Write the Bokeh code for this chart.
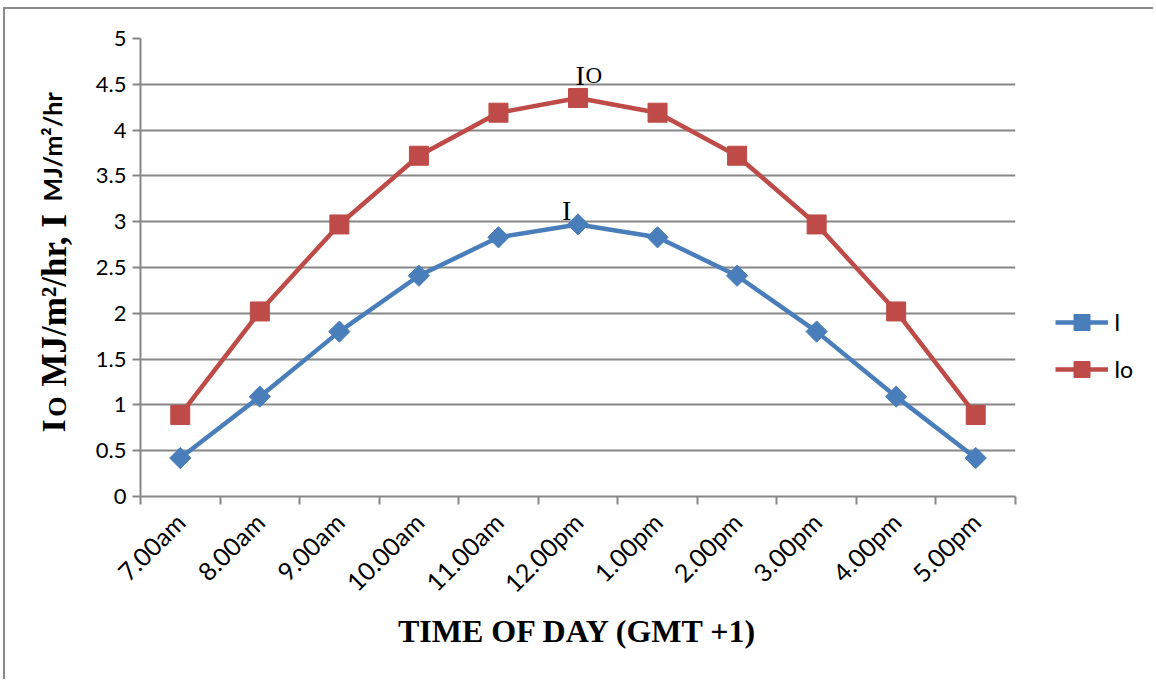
import math
from bokeh.plotting import figure
from bokeh.layouts import row
from bokeh.models import (FixedTicker, Legend, LegendItem, ColumnDataSource, Label)
from bokeh.core.properties import value
from bokeh.embed import file_html
from bokeh.resources import INLINE

categories = ["7.00am", "8.00am", "9.00am", "10.00am", "11.00am", "12.00pm",
              "1.00pm", "2.00pm", "3.00pm", "4.00pm", "5.00pm"]
I_values = [0.42, 1.09, 1.80, 2.41, 2.83, 2.97, 2.83, 2.41, 1.80, 1.09, 0.42]
Io_values = [0.89, 2.02, 2.97, 3.72, 4.19, 4.35, 4.19, 3.72, 2.97, 2.02, 0.89]
y_ticks = [0, 0.5, 1, 1.5, 2, 2.5, 3, 3.5, 4, 4.5, 5]
y_tick_labels = ["0", "0.5", "1", "1.5", "2", "2.5", "3", "3.5", "4", "4.5", "5"]
series_names = ["I", "Io"]

BLUE = "#4A7EBB"
RED = "#BE4B48"
GRID = "#878787"
TICK_FONT = "Lato"
SERIF = "Liberation Serif"

H = 670
TOP, BOTTOM = 29, 183
LAB_W = 80
MAIN_W = 932
LEG_W = 136

n = len(categories)
xc = [i + 0.5 for i in range(n)]
src = ColumnDataSource(dict(x=xc, I=I_values, Io=Io_values))

# ---------- main plot ----------
p = figure(width=MAIN_W, height=H, output_backend="svg", toolbar_location=None,
           x_range=(0, n), y_range=(0, 5),
           min_border_left=55, min_border_right=2,
           min_border_top=TOP, min_border_bottom=BOTTOM)
p.outline_line_color = None
p.background_fill_color = "white"
p.border_fill_color = "white"

p.xgrid.grid_line_color = None
p.ygrid.ticker = FixedTicker(ticks=y_ticks)
p.ygrid.grid_line_color = GRID
p.ygrid.grid_line_width = 2

# x axis (category boundaries carry the tick marks)
p.xaxis.ticker = FixedTicker(ticks=xc, minor_ticks=list(range(n + 1)))
p.xaxis.major_label_overrides = {x: c for x, c in zip(xc, categories)}
p.xaxis.major_tick_line_color = None
p.xaxis.major_tick_out = 6
p.xaxis.major_tick_in = 0
p.xaxis.minor_tick_line_color = GRID
p.xaxis.minor_tick_line_width = 2
p.xaxis.minor_tick_out = 8
p.xaxis.minor_tick_in = 0
p.xaxis.axis_line_color = GRID
p.xaxis.axis_line_width = 2
p.xaxis.major_label_orientation = math.pi / 4
p.xaxis.major_label_text_font = TICK_FONT
p.xaxis.major_label_text_font_size = "25px"
p.xaxis.major_label_text_color = "black"
p.xaxis.major_label_standoff = 13
p.xaxis.axis_label = "TIME OF DAY (GMT +1)"
p.xaxis.axis_label_text_font = SERIF
p.xaxis.axis_label_text_font_style = "bold"
p.xaxis.axis_label_text_font_size = "32px"
p.xaxis.axis_label_text_color = "black"
p.xaxis.axis_label_standoff = 2

# y axis
p.yaxis.ticker = FixedTicker(ticks=y_ticks)
p.yaxis.major_label_overrides = {t: l for t, l in zip(y_ticks, y_tick_labels)}
p.yaxis.major_tick_line_color = GRID
p.yaxis.major_tick_line_width = 2
p.yaxis.major_tick_out = 8
p.yaxis.major_tick_in = 0
p.yaxis.minor_tick_line_color = None
p.yaxis.axis_line_color = GRID
p.yaxis.axis_line_width = 2
p.yaxis.major_label_text_font = TICK_FONT
p.yaxis.major_label_text_font_size = "22px"
p.yaxis.major_label_text_color = "black"
p.yaxis.major_label_standoff = 6

# series
BLUE_LINE = dict(line_color=BLUE, line_width=4.5)
RED_LINE = dict(line_color=RED, line_width=4.5)
BLUE_MARK = dict(marker="square", angle=math.pi / 4, size=15, fill_color=BLUE, line_color=BLUE)
RED_MARK = dict(marker="square", size=19, fill_color=RED, line_color=RED)

p.line("x", "I", source=src, **BLUE_LINE)
p.scatter("x", "I", source=src, **BLUE_MARK)
p.line("x", "Io", source=src, **RED_LINE)
p.scatter("x", "Io", source=src, **RED_MARK)

# in-plot annotations
peak = categories.index("12.00pm")
p.add_layout(Label(x=peak + 0.47, y=4.6, text="I", text_font=SERIF,
                   text_font_size="28px", text_color="black",
                   text_baseline="alphabetic"))
p.add_layout(Label(x=peak + 0.47, y=4.6, x_offset=10, text="O", text_font=SERIF,
                   text_font_size="23px", text_color="black",
                   text_baseline="alphabetic"))
p.add_layout(Label(x=peak + 0.3, y=3.12, text="I", text_font=SERIF,
                   text_font_size="28px", text_color="black",
                   text_baseline="alphabetic"))

# ---------- y-axis title panel (rotated, mixed fonts) ----------
q = figure(width=LAB_W, height=H, output_backend="svg", toolbar_location=None,
           x_range=(0, LAB_W), y_range=(0, 5), x_axis_type=None, y_axis_type=None,
           min_border_left=0, min_border_right=0,
           min_border_top=TOP, min_border_bottom=BOTTOM)
q.outline_line_color = None
q.xgrid.grid_line_color = None
q.ygrid.grid_line_color = None
q.border_fill_color = "white"

def ylab(y, text, font, size, xs):
    q.text(x=[xs], y=[y], text=[text], angle=math.pi / 2,
           text_font=value(font), text_font_style="bold", text_font_size=size,
           text_color="black", text_align="left", text_baseline="alphabetic")

ylab(0.70, "I", SERIF, "34px", 48)
ylab(0.87, "O", SERIF, "26px", 52)
ylab(1.20, "MJ/m²/hr, I", SERIF, "35px", 49)
ylab(3.22, "MJ/m²/hr", TICK_FONT, "25px", 46)

# ---------- legend panel (same series, viewed past the last category) ----------
r = figure(width=LEG_W, height=H, output_backend="svg", toolbar_location=None,
           x_range=(n, n + 1), y_range=(0, 5), x_axis_type=None, y_axis_type=None,
           min_border_left=0, min_border_right=0,
           min_border_top=TOP, min_border_bottom=BOTTOM)
r.outline_line_color = None
r.xgrid.grid_line_color = None
r.ygrid.grid_line_color = None
r.border_fill_color = "white"
lg1 = r.line("x", "I", source=src, **BLUE_LINE)
mg1 = r.scatter("x", "I", source=src, **BLUE_MARK)
lg2 = r.line("x", "Io", source=src, **RED_LINE)
mg2 = r.scatter("x", "Io", source=src, **RED_MARK)

legend = Legend(items=[LegendItem(label=series_names[0], renderers=[lg1, mg1]),
                       LegendItem(label=series_names[1], renderers=[lg2, mg2])],
                location=(38, 107), orientation="vertical",
                glyph_width=53, glyph_height=40, label_height=40, spacing=7,
                label_standoff=6, padding=0, margin=0,
                border_line_color=None, background_fill_alpha=0,
                label_text_font=TICK_FONT, label_text_font_size="23px",
                label_text_color="black")
r.add_layout(legend, "center")

layout = row(q, p, r)
layout.styles = {"margin-left": "3px", "margin-top": "7px",
                 "border-top": "2px solid #8a8a8a", "border-left": "2px solid #8a8a8a"}

open("out.html", "w").write(file_html(layout, INLINE))
